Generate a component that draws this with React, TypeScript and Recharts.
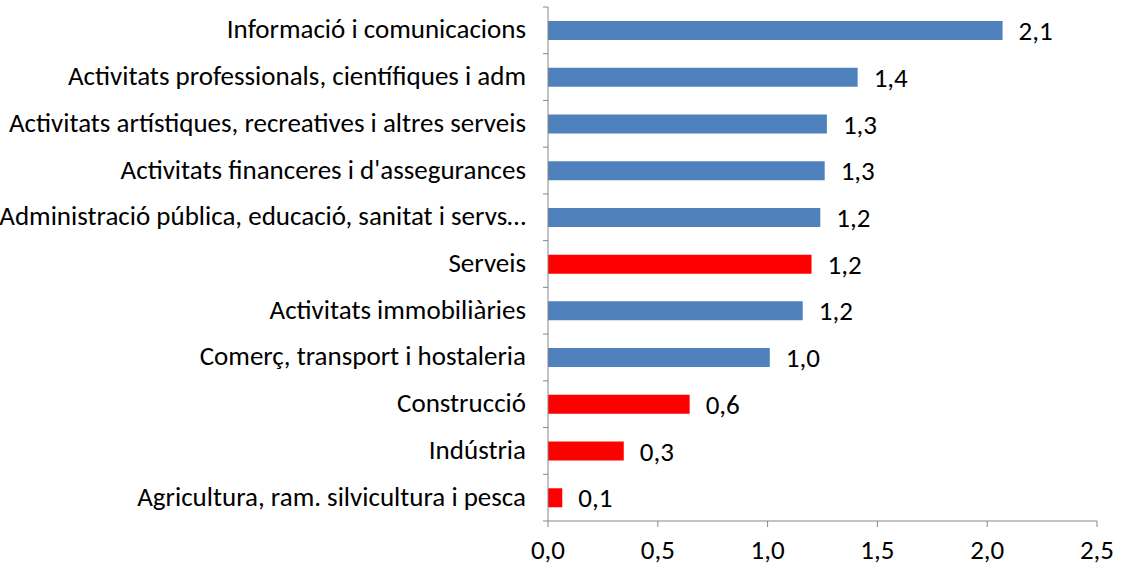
import { BarChart, Bar, XAxis, YAxis, Cell, LabelList } from "recharts";

const categories = [
  "Informació i comunicacions",
  "Activitats professionals, científiques i adm",
  "Activitats artístiques, recreatives i altres serveis",
  "Activitats financeres i d'assegurances",
  "Administració pública, educació, sanitat i servs…",
  "Serveis",
  "Activitats immobiliàries",
  "Comerç, transport i hostaleria",
  "Construcció",
  "Indústria",
  "Agricultura, ram. silvicultura i pesca",
];

const values = [2.07, 1.41, 1.27, 1.26, 1.24, 1.2, 1.16, 1.01, 0.645, 0.345, 0.065];

const highlighted = ["Serveis", "Construcció", "Indústria", "Agricultura, ram. silvicultura i pesca"];

const xTicks = [0, 0.5, 1, 1.5, 2, 2.5];

const BLUE = "#4F81BD";
const RED = "#FF0000";
const AXIS = "#868686";
const FONT = "Calibri, Carlito, Lato, sans-serif";
const FS = 27;

const data = categories.map((name, i) => ({ name, value: values[i] }));

const W = 1122;
const H = 571;
const TOP = 7;
const XAXIS_H = 50;
const YAXIS_W = 548;
const band = (H - TOP - XAXIS_H) / categories.length;

const fmt = (v: number) => v.toFixed(1).replace(".", ",");

function CategoryTick(props: any) {
  const { y, payload, index } = props;
  const ax = YAXIS_W;
  return (
    <g>
      <text
        x={ax - 22}
        y={y}
        dy={8}
        textAnchor="end"
        fill="#000"
        style={{ fontSize: FS, fontFamily: FONT }}
      >
        {payload.value}
      </text>
      {index === 0 && (
        <line x1={ax - 5} x2={ax} y1={y - band / 2} y2={y - band / 2} stroke={AXIS} />
      )}
      <line x1={ax - 5} x2={ax} y1={y + band / 2} y2={y + band / 2} stroke={AXIS} />
    </g>
  );
}

export default function App() {
  return (
    <div style={{ position: "fixed", left: 0, top: 0, background: "#fff" }}>
      <BarChart
        width={W}
        height={H}
        data={data}
        layout="vertical"
        margin={{ top: TOP, right: 25, bottom: 0, left: 0 }}
        barCategoryGap={0}
      >
        <XAxis
          type="number"
          domain={[0, 2.5]}
          ticks={xTicks}
          tickFormatter={fmt}
          height={XAXIS_H}
          stroke={AXIS}
          tickSize={6}
          tickMargin={13}
          tick={{ fill: "#000", style: { fontSize: FS, fontFamily: FONT } }}
        />
        <YAxis
          type="category"
          dataKey="name"
          width={YAXIS_W}
          stroke={AXIS}
          tickLine={false}
          interval={0}
          tick={<CategoryTick />}
        />
        <Bar dataKey="value" barSize={19} isAnimationActive={false}>
          {data.map((d, i) => (
            <Cell key={i} fill={highlighted.includes(d.name) ? RED : BLUE} />
          ))}
          <LabelList
            dataKey="value"
            position="right"
            offset={16}
            formatter={(v: any) => fmt(Number(v))}
            fill="#000"
            style={{ fontSize: FS, fontFamily: FONT }}
          />
        </Bar>
      </BarChart>
    </div>
  );
}
